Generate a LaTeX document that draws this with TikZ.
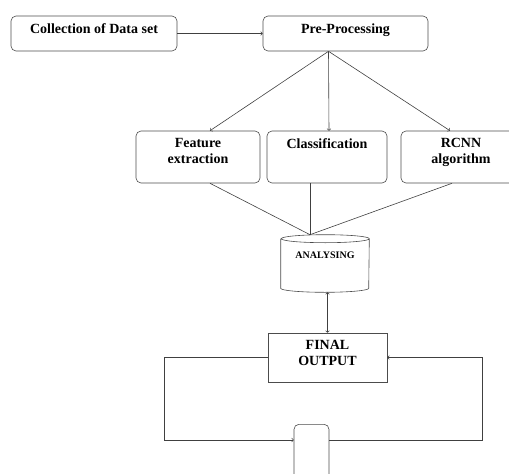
\documentclass[tikz,border=0pt]{standalone}
\usepackage{fontspec}
\setmainfont{Liberation Serif}
\usetikzlibrary{shapes.geometric, positioning, arrows}

\begin{document}
\begin{tikzpicture}[x=1pt, y=-1pt, line width=0.6pt, draw=black!75,
    rbox/.style={draw=black!70, rounded corners=5pt, inner sep=0pt},
    sqbox/.style={draw=black!70, inner sep=0pt},
    txt/.style={font=\fontsize{14}{16}\selectfont\bfseries, align=center, anchor=north, yshift=-4pt},
    smalltxt/.style={font=\fontsize{10}{12}\selectfont\bfseries, anchor=north, yshift=-14pt}]
        \clip (0,0) rectangle (509,474);

        % top row
        \node[rbox, minimum width=166pt, minimum height=35pt, label={[txt]north:Collection of Data set}] (coll) at (94,33.5) {};
        \node[rbox, minimum width=165pt, minimum height=35pt, label={[txt]north:Pre-Processing}] (pre) at (345.5,33.5) {};

        % middle row
        \node[rbox, minimum width=124pt, minimum height=52pt, label={[txt]north:Feature\\extraction}] (feat) at (198,157) {};
        \node[rbox, minimum width=120pt, minimum height=52pt, label={[txt]north:Classification}] (cls) at (327,157) {};
        \node[rbox, minimum width=120pt, minimum height=52pt, label={[txt]north:RCNN\\algorithm}] (rcnn) at (461,157) {};

        % analysing drum
        \node[inner sep=0pt, minimum width=88pt, minimum height=57pt, label={[smalltxt]north:ANALYSING}] (ana) at (325,263.5) {};
        \draw[draw=black!70] ([yshift=-4pt]ana.north west) -- ([yshift=4pt]ana.south west)
            arc (180:360:44pt and 4pt) -- ([yshift=-4pt]ana.north east)
            arc (0:360:44pt and 4pt);

        \node[sqbox, minimum width=119pt, minimum height=49pt, label={[txt]north:FINAL\\OUTPUT}] (fin) at (327.5,357.5) {};
        \node[rbox, minimum width=35pt, minimum height=100pt, anchor=north] (loop) at (311.5,424) {};

        \coordinate (fork) at ([xshift=-17pt]pre.south);
        \coordinate (meet) at ([xshift=-15pt]ana.north);

        \draw[->] (coll) -- (pre);
        \draw[->] (fork) -- ([xshift=12pt]feat.north);
        \draw[->] (fork) -- ([xshift=2pt]cls.north);
        \draw[->] (fork) -- ([xshift=-11pt]rcnn.north);

        \draw ([xshift=12pt]feat.south) -- (meet);
        \draw ([xshift=-17pt]cls.south) -- (meet);
        \draw ([xshift=-9pt]rcnn.south) -- (meet);

        \draw[<->] (fin.north |- ana.south) -- (fin.north);
        \draw[->] (fin.west) -- ++(-103,0) |- ([yshift=-16pt]loop.north west);
        \draw[->] ([yshift=-16pt]loop.north east) -- ++(153,0) |- (fin.east);
    \end{tikzpicture}
\end{document}
